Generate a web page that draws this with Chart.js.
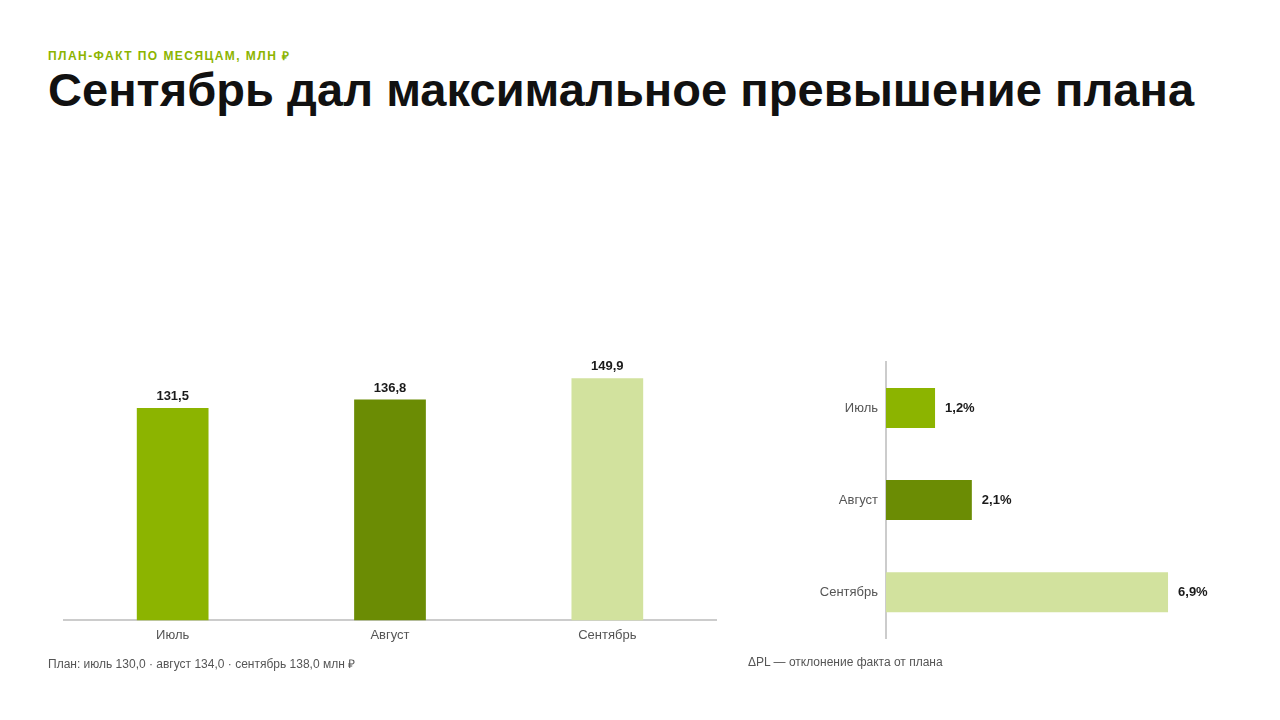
<!DOCTYPE html>
<html lang="ru">

<head>
    <meta charset="UTF-8">
    <title>План-факт по месяцам</title>
    <script src="https://cdn.jsdelivr.net/npm/chart.js"></script>
    <style>
        body {
            margin: 0;
            width: 1280px;
            height: 720px;
            background: #ffffff;
            font-family: "Liberation Sans", Arial, sans-serif;
            position: relative;
            overflow: hidden;
        }

        .kicker {
            position: absolute;
            left: 48px;
            top: 47px;
            font-size: 12px;
            font-weight: bold;
            letter-spacing: 1.45px;
            color: #8cb400;
        }

        h1 {
            position: absolute;
            left: 48px;
            top: 62px;
            margin: 0;
            font-size: 47px;
            font-weight: bold;
            color: #111111;
            letter-spacing: 0.05px;
        }

        .note {
            position: absolute;
            top: 655px;
            font-size: 12px;
            color: #555555;
        }

        #box_fakt {
            position: absolute;
            left: 48px;
            top: 330px;
            width: 680px;
            height: 327px;
        }

        #box_delta {
            position: absolute;
            left: 748px;
            top: 340px;
            width: 484px;
            height: 314px;
        }
    </style>
</head>

<body>
    <div class="kicker">ПЛАН-ФАКТ ПО МЕСЯЦАМ, МЛН ₽</div>
    <h1>Сентябрь дал максимальное превышение плана</h1>

    <div id="box_fakt"><canvas id="grafico_fakt"></canvas></div>
    <div id="box_delta"><canvas id="grafico_delta"></canvas></div>

    <div class="note" style="left: 48px;">План: июль 130,0 · август 134,0 · сентябрь 138,0 млн ₽</div>
    <div class="note" style="left: 748px;">ΔPL — отклонение факта от плана</div>
</body>

</html>

<script>
    // dados
    var meses = ["Июль", "Август", "Сентябрь"]
    var fakt = [131.5, 136.8, 149.9]
    var desvio = [1.2, 2.1, 6.9]
    var cores = ["#8cb400", "#6b8c04", "#d2e29e"]

    Chart.defaults.font.family = '"Liberation Sans", Arial, sans-serif'
    Chart.defaults.animation = false

    function numero(v) {
        return v.toFixed(1).replace(".", ",")
    }

    // rotulos de valor desenhados em cima das barras
    var rotulos = {
        id: "rotulos",
        afterDatasetsDraw: function (chart, args, opts) {
            var ctx = chart.ctx
            var meta = chart.getDatasetMeta(0)
            var valores = chart.data.datasets[0].data
            ctx.save()
            ctx.font = "bold 13px 'Liberation Sans', Arial, sans-serif"
            ctx.fillStyle = "#1a1a1a"
            meta.data.forEach(function (bar, i) {
                if (opts.horizontal) {
                    ctx.textAlign = "left"
                    ctx.textBaseline = "middle"
                    ctx.fillText(numero(valores[i]) + "%", bar.x + 10, bar.y)
                } else {
                    ctx.textAlign = "center"
                    ctx.textBaseline = "bottom"
                    ctx.fillText(numero(valores[i]), bar.x, bar.y - 5)
                }
            })
            ctx.restore()
        }
    }

    new Chart(document.getElementById("grafico_fakt"), {
        type: "bar",
        data: {
            labels: meses,
            datasets: [{
                label: "Факт",
                data: fakt,
                backgroundColor: cores,
                barPercentage: 0.66,
                categoryPercentage: 0.5
            }]
        },
        options: {
            responsive: true,
            maintainAspectRatio: false,
            layout: {
                padding: { left: 16, right: 12, top: 32, bottom: 7 }
            },
            plugins: {
                legend: { display: false },
                tooltip: { enabled: false },
                rotulos: { horizontal: false }
            },
            scales: {
                y: {
                    display: false,
                    beginAtZero: true,
                    min: 0,
                    max: 160
                },
                x: {
                    grid: { display: false, drawTicks: false },
                    border: { display: true, color: "#cccccc", width: 2 },
                    ticks: {
                        color: "#555555",
                        padding: 7,
                        font: { size: 13 }
                    }
                }
            }
        },
        plugins: [rotulos]
    });

    new Chart(document.getElementById("grafico_delta"), {
        type: "bar",
        data: {
            labels: meses,
            datasets: [{
                label: "ΔPL",
                data: desvio,
                backgroundColor: cores,
                barPercentage: 0.87,
                categoryPercentage: 0.5
            }]
        },
        options: {
            indexAxis: "y",
            responsive: true,
            maintainAspectRatio: false,
            layout: {
                padding: { left: 0, right: 19, top: 22, bottom: 12 }
            },
            plugins: {
                legend: { display: false },
                tooltip: { enabled: false },
                rotulos: { horizontal: true }
            },
            scales: {
                x: {
                    display: false,
                    min: 0,
                    max: 8
                },
                y: {
                    grid: { display: false, drawTicks: false },
                    border: { display: true, color: "#cccccc", width: 2 },
                    ticks: {
                        color: "#555555",
                        padding: 8,
                        font: { size: 13 }
                    },
                    afterFit: function (scale) {
                        scale.width = 138
                    }
                }
            }
        },
        plugins: [rotulos]
    });
</script>
